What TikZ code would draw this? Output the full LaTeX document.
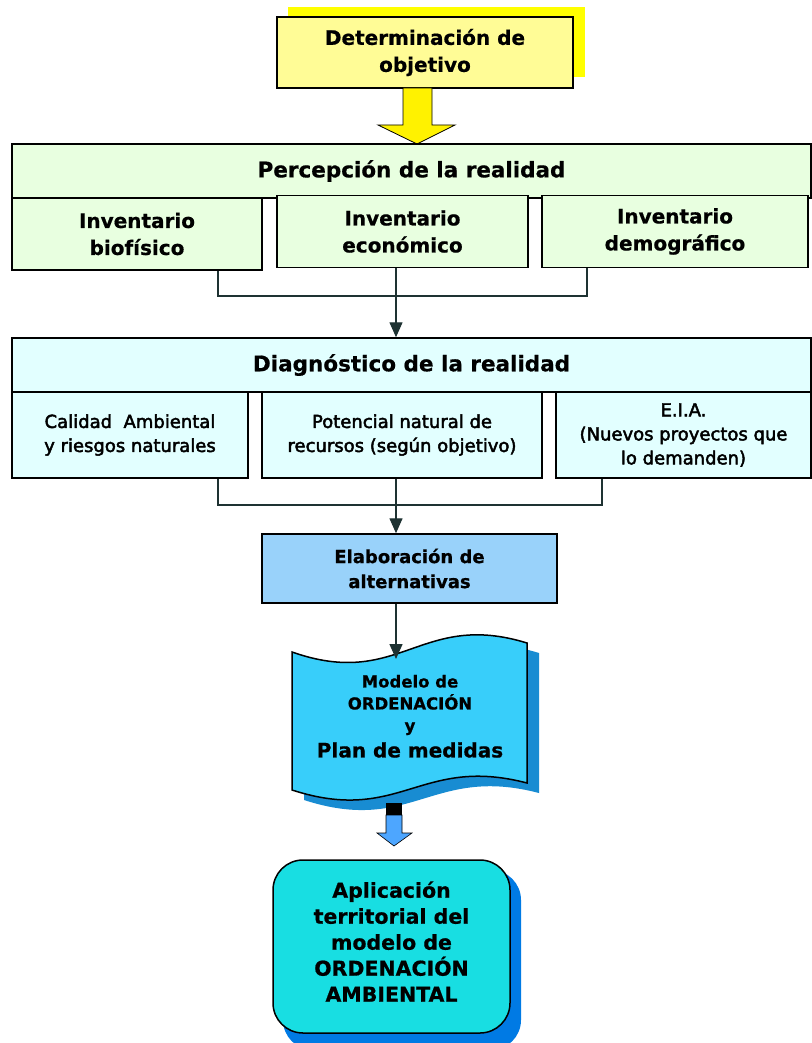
\documentclass[tikz,border=0pt]{standalone}
\usepackage{fontspec}
\setmainfont{DejaVu Sans}[BoldFeatures={FakeBold=0.6}]
\newfontfamily\semifont{DejaVu Sans}[FakeBold=2.5]
\usetikzlibrary{arrows.meta}
\definecolor{goalfill}{RGB}{255,252,150}
\definecolor{goalshade}{RGB}{255,255,0}
\definecolor{percfill}{RGB}{232,255,224}
\definecolor{diagfill}{RGB}{226,255,255}
\definecolor{altfill}{RGB}{153,210,250}
\definecolor{modfill}{RGB}{56,206,250}
\definecolor{modshade}{RGB}{24,140,210}
\definecolor{appfill}{RGB}{24,222,226}
\definecolor{appshade}{RGB}{0,122,228}
\definecolor{arrowblue}{RGB}{77,166,255}
\definecolor{linkcol}{RGB}{30,50,50}
\tikzstyle{cell}=[draw=black,line width=1.5pt,rectangle,inner sep=0pt,align=center]
\tikzstyle{bigtxt}=[font=\bfseries\fontsize{20}{27}\selectfont]
\tikzstyle{midtxt}=[font=\bfseries\fontsize{18}{25}\selectfont]
\tikzstyle{smalltxt}=[font=\semifont\fontsize{18}{24}\selectfont]
\tikzstyle{linkln}=[draw=linkcol,line width=1.4pt]
\tikzstyle{tip}=[-{Triangle[width=13pt,length=15pt]}]

\begin{document}
\begin{tikzpicture}[x=1pt,y=-1pt]
\useasboundingbox[fill=white] (0,0) rectangle (811,1043);
% objective
\fill[goalshade] (288,7) rectangle (585,77);
\node[cell,bigtxt,fill=goalfill,minimum width=296,minimum height=71] (goal) at (425,52.5) {Determinación de\\objetivo};
\draw[fill=yellow,line width=.8pt] (403,88) -- (432,88) -- (432,125) -- (455,125) -- (417,144) -- (378,125) -- (403,125) -- cycle;
% perception
\node[cell,font=\bfseries\fontsize{21.5}{27}\selectfont,fill=percfill,minimum width=799,minimum height=54] (percep) at (411.5,171) {Percepción de la realidad};
\foreach \n/\x/\y/\w/\t in {bio/137/234/250/{Inventario\\biofísico}, eco/402.5/231.5/251/{Inventario\\económico}, demo/675/231.5/266/{Inventario\\demográfico}}
    \node[cell,bigtxt,fill=percfill,minimum width=\w,minimum height=72] (\n) at (\x,\y) {\t};
% diagnosis
\node[cell,font=\bfseries\fontsize{21.5}{27}\selectfont,fill=diagfill,minimum width=799,minimum height=54] (diag) at (411.5,365) {Diagnóstico de la realidad};
\foreach \n/\x/\w/\t in {cal/130/236/{Calidad\ \ Ambiental\\y riesgos naturales}, pot/402/280/{Potencial natural de\\recursos (según objetivo)}, eia/683.5/255/{E.I.A.\\(Nuevos proyectos que\\lo demanden)}}
    \node[cell,smalltxt,fill=diagfill,minimum width=\w,minimum height=86] (\n) at (\x,435) {\t};
% alternatives
\node[cell,midtxt,fill=altfill,minimum width=295,minimum height=69] (alt) at (409.5,568.5) {Elaboración de\\alternativas};
% joins
\coordinate (percjoin) at (396,296);
\coordinate (diagjoin) at (396,505);
\coordinate (mtop) at (396,659);
\draw[linkln] ([xshift=81]bio.south) |- (percjoin) -| ([xshift=-88]demo.south);
\draw[linkln,tip] ([xshift=-6.5]eco.south) -- (percjoin |- diag.north);
\draw[linkln] ([xshift=88]cal.south) |- (diagjoin) -| ([xshift=-81.5]eia.south);
\draw[linkln,tip] ([xshift=-6]pot.south) -- (diagjoin |- alt.north);
% model
\begin{scope}[shift={(12,10)}]
\fill[modshade] (292,652) .. controls (400,690) and (420,610) .. (527,643) -- (527,783) .. controls (420,755) and (400,825) .. (292,790) -- cycle;
\end{scope}
\draw[fill=modfill,line width=1.5pt] (292,652) .. controls (400,690) and (420,610) .. (527,643) -- (527,783) .. controls (420,755) and (400,825) .. (292,790) -- cycle;
\draw[linkln,tip] (alt.south -| mtop) -- (mtop);
\node[align=center,font=\bfseries\fontsize{16.5}{22}\selectfont] (model) at (410,705) {Modelo de\\ORDENACIÓN\\y};
\node[font=\bfseries\fontsize{20}{26}\selectfont] (plan) at (410,750) {Plan de medidas};
% application
\fill[black] (386,803) rectangle (402,815);
\draw[fill=arrowblue,line width=.6pt] (386,815) -- (402,815) -- (402,833) -- (412,833) -- (394,846) -- (377,833) -- (386,833) -- cycle;
\fill[appshade,rounded corners=30] (283,870) rectangle (521,1050);
\node[cell,font=\bfseries\fontsize{20.5}{26}\selectfont,fill=appfill,rounded corners=30,minimum width=237,minimum height=173] (app) at (391.5,946.5) {Aplicación\\territorial del\\modelo de\\ORDENACIÓN\\AMBIENTAL\\[-16pt]};
\end{tikzpicture}
\end{document}
